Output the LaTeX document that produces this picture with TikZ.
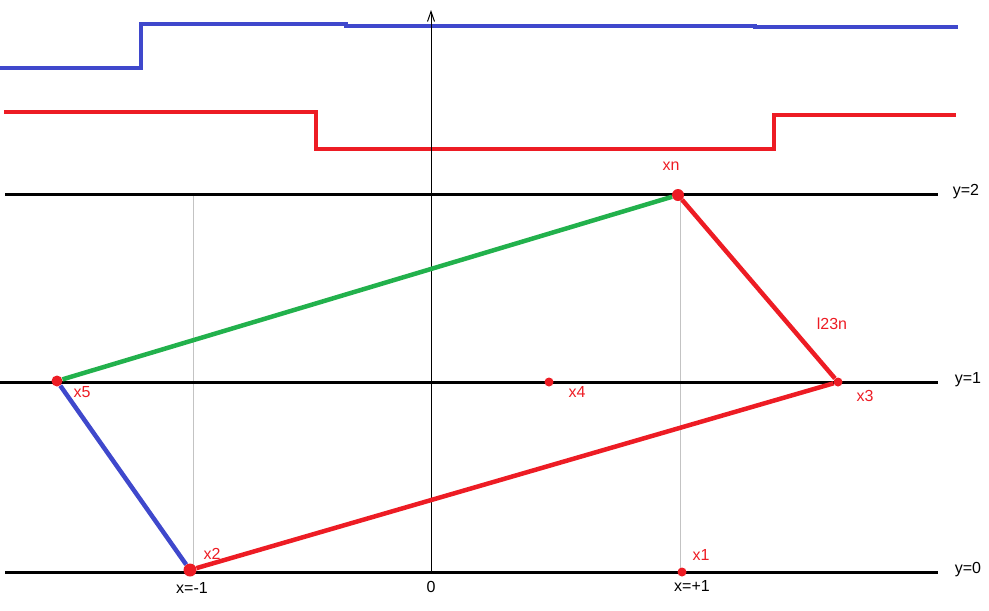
\documentclass[tikz,border=0pt]{standalone}
\usepackage{fontspec}
\setmainfont{Liberation Sans}
\usetikzlibrary{arrows.meta}
\definecolor{pblue}{RGB}{63,72,204}
\definecolor{pred}{RGB}{237,28,36}
\definecolor{pgreen}{RGB}{34,177,76}
\definecolor{pgray}{RGB}{195,195,195}
\begin{document}
\begin{tikzpicture}[x=1pt,y=-1pt]
\tikzstyle{every node}=[font=\fontsize{16}{18}\selectfont,inner sep=0pt];
\tikzstyle{dot}=[circle,fill=pred,inner sep=0pt];
\tikzstyle{lab}=[text=pred];
\useasboundingbox (0,0) rectangle (989,611);
% signals on top
\draw[pblue,line width=4.5pt] (0,68) -- (141,68) -- (141,24) -- (346,24) -- (346,26)
  -- (755,26) -- (755,27) -- (958,27);
\draw[pred,line width=4.5pt] (4,112) -- (316,112) -- (316,149) -- (774,149)
  -- (774,115) -- (956,115);
% levels
\coordinate (a2) at (5,194);
\coordinate (b2) at (938,194);
\coordinate (a1) at (0,382);
\coordinate (b1) at (938,382);
\coordinate (a0) at (5,572);
\coordinate (b0) at (938,572);
\node (y2) at (966,192) {y=2};
\node (y1) at (968,380) {y=1};
\node (y0) at (968,570) {y=0};
\coordinate (o) at (431,571);
\coordinate (top) at (431,10);
\coordinate (g1) at (193,194);
\coordinate (h1) at (193,572);
\coordinate (g2) at (680,194);
\coordinate (h2) at (680,572);
\draw[pgray,line width=1pt] (g1) -- (h1) (g2) -- (h2);
\draw[line width=3pt] (a2) -- (b2) (a1) -- (b1) (a0) -- (b0);
\draw[line width=1pt,-{Straight Barb[length=10pt,width=7pt]}] (o) -- (top);
% points
\node[dot,minimum size=12pt] (n) at (678,195) {};
\node[dot,minimum size=9pt] (3) at (838,382) {};
\node[dot,minimum size=11pt] (5) at (57,381) {};
\node[dot,minimum size=13pt] (2) at (190,570) {};
\node[dot,minimum size=9pt] (4) at (549,382) {};
\node[dot,minimum size=9pt] (1) at (682,572) {};
\node[lab] (tn) at (671,166) {xn};
\node[lab] (t3) at (865,396) {x3};
\node[lab] (t5) at (82,392) {x5};
\node[lab] (t4) at (577,392) {x4};
\node[lab] (t2) at (212,554) {x2};
\node[lab] (t1) at (701,555) {x1};
\node[lab] (l) at (832,324) {l23n};
\node (xm) at (192,588) {x=-1};
\node (x0) at (431,587) {0};
\node (xp) at (692,586) {x=+1};
\draw[pgreen,line width=4.5pt] (5) -- (n);
\draw[pred,line width=4.5pt] (n) -- (3)
(3) -- (2);
\draw[pblue,line width=4.5pt] (5) -- (2);
\end{tikzpicture}
\end{document}
